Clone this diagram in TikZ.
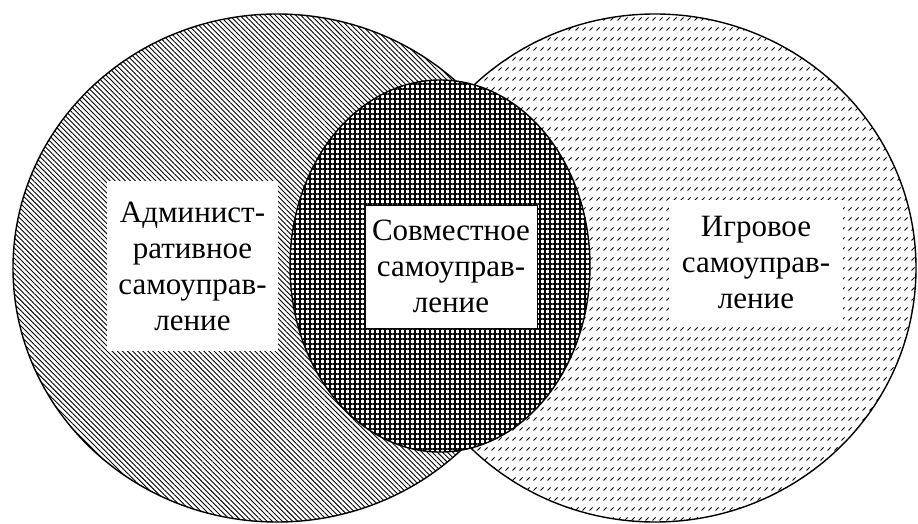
\documentclass[tikz,border=0pt]{standalone}
\usepackage{fontspec}
\setmainfont{Liberation Serif}
\usetikzlibrary{patterns,patterns.meta}
\pgfdeclarepatternformonly{dashdiag}{\pgfqpoint{-1pt}{-1pt}}{\pgfqpoint{8pt}{11pt}}{\pgfqpoint{7pt}{10pt}}{%
  \pgfsetlinewidth{0.8pt}%
  \pgfpathmoveto{\pgfqpoint{1.5pt}{3.5pt}}%
  \pgfpathlineto{\pgfqpoint{4.5pt}{6.5pt}}%
  \pgfusepath{stroke}}
\tikzset{
  border/.style={draw=black,line width=1.4pt},
  leftpat/.style={pattern={Lines[angle=-45,distance=3.6pt,line width=0.9pt]}},
  midpat/.style={pattern={Hatch[angle=0,distance=5pt,line width=1.1pt]}},
  rightpat/.style={pattern=dashdiag},
  label/.style={align=center,font=\fontsize{31}{36}\selectfont,inner sep=0pt}
}
\begin{document}
\begin{tikzpicture}[x=1pt,y=-1pt]
\useasboundingbox (0,0) rectangle (918,524);
% left circle
\path[fill=white] (277,268) ellipse [x radius=264,y radius=254];
\path[leftpat] (277,268) ellipse [x radius=264,y radius=254];
\draw[border] (277,268) ellipse [x radius=264,y radius=254];
% right circle
\path[fill=white] (655,268) ellipse [x radius=261,y radius=254];
\path[rightpat] (655,268) ellipse [x radius=261,y radius=254];
\draw[border] (655,268) ellipse [x radius=261,y radius=254];
% middle ellipse
\path[fill=white] (440,266) ellipse [x radius=150,y radius=186];
\path[midpat] (440,266) ellipse [x radius=150,y radius=186];
\draw[border] (440,266) ellipse [x radius=150,y radius=186];
% text boxes
\node[label,fill=white,minimum width=171pt,minimum height=170pt] (adm) at (192.5,266) {Админист-\\ративное\\самоуправ-\\ление};
\node[label,fill=white,draw=black,line width=1pt,minimum width=172pt,minimum height=123pt] (sov) at (451,266.5) {Совместное\\самоуправ-\\ление};
\node[label,fill=white,minimum width=174pt,minimum height=127pt] (igr) at (756,263) {Игровое\\самоуправ-\\ление};
\end{tikzpicture}
\end{document}
